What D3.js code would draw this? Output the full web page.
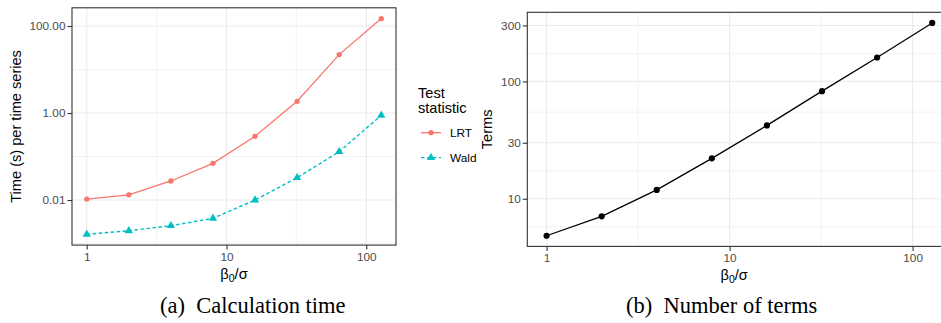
<!DOCTYPE html>
<html>
<head>
<meta charset="utf-8">
<script src="https://cdn.jsdelivr.net/npm/d3@7"></script>
<style>
  body { margin: 0; background: #fff; }
  svg { display: block; }
</style>
</head>
<body>
<div id="chart"></div>
<script>
// data
var ratio = [1, 2, 4, 8, 16, 32, 64, 128];
var lrtTime = [0.0105, 0.0132, 0.0274, 0.0698, 0.291, 1.86, 22.0, 148];
var waldTime = [0.00163, 0.00197, 0.00257, 0.0038, 0.01, 0.0326, 0.129, 0.885];
var terms = [4.84, 7.08, 11.9, 22.1, 42.2, 82.6, 160, 315];

var xTicks = [1, 10, 100];
var xTickLabels = ["1", "10", "100"];
var timeTicks = [0.01, 1, 100];
var timeTickLabels = ["0.01", "1.00", "100.00"];
var termTicks = [10, 30, 100, 300];
var termTickLabels = ["10", "30", "100", "300"];

var seriesNames = ["LRT", "Wald"];
var seriesColors = ["#F8766D", "#00BFC4"];

var fontFamily = "'Liberation Sans', Arial, Helvetica, sans-serif";
var gridColor = "#EBEBEB";

var svg = d3.select("#chart").append("svg")
  .attr("width", 941)
  .attr("height", 323);

// ggplot style: 5% expansion in log space
function logDomain(vals) {
  var e = d3.extent(vals).map(Math.log10);
  var pad = (e[1] - e[0]) * 0.05;
  return [Math.pow(10, e[0] - pad), Math.pow(10, e[1] + pad)];
}

// minor breaks halfway between major breaks (log space)
function minorBreaks(ticks) {
  var l = ticks.map(Math.log10);
  var ext = [l[0] - (l[1] - l[0])].concat(l, [l[l.length - 1] + (l[l.length - 1] - l[l.length - 2])]);
  var out = [];
  for (var i = 0; i < ext.length - 1; i++) out.push(Math.pow(10, (ext[i] + ext[i + 1]) / 2));
  return out;
}

function drawPanel(p) {
  var x = d3.scaleLog().domain(logDomain(ratio)).range([p.left, p.right]);
  var y = d3.scaleLog().domain(logDomain(p.yData)).range([p.bottom, p.top]);
  var g = svg.append("g");

  var clipId = "clip" + p.id;
  svg.append("clipPath").attr("id", clipId)
    .append("rect").attr("x", p.left).attr("y", p.top)
    .attr("width", p.right - p.left).attr("height", p.bottom - p.top);

  var grid = g.append("g").attr("clip-path", "url(#" + clipId + ")");
  var xd = x.domain(), yd = y.domain();
  var inX = function(v) { return v > xd[0] && v < xd[1]; };
  var inY = function(v) { return v > yd[0] && v < yd[1]; };

  grid.selectAll(".ymin").data(minorBreaks(p.yTicks).filter(inY)).enter().append("line")
    .attr("x1", p.left).attr("x2", p.right)
    .attr("y1", function(d) { return y(d); }).attr("y2", function(d) { return y(d); })
    .attr("stroke", gridColor).attr("stroke-width", 0.6);
  grid.selectAll(".xmin").data(minorBreaks(xTicks).filter(inX)).enter().append("line")
    .attr("y1", p.top).attr("y2", p.bottom)
    .attr("x1", function(d) { return x(d); }).attr("x2", function(d) { return x(d); })
    .attr("stroke", gridColor).attr("stroke-width", 0.6);
  grid.selectAll(".ymaj").data(p.yTicks).enter().append("line")
    .attr("x1", p.left).attr("x2", p.right)
    .attr("y1", function(d) { return y(d); }).attr("y2", function(d) { return y(d); })
    .attr("stroke", gridColor).attr("stroke-width", 1.1);
  grid.selectAll(".xmaj").data(xTicks).enter().append("line")
    .attr("y1", p.top).attr("y2", p.bottom)
    .attr("x1", function(d) { return x(d); }).attr("x2", function(d) { return x(d); })
    .attr("stroke", gridColor).attr("stroke-width", 1.1);

  // series
  var marks = g.append("g").attr("clip-path", "url(#" + clipId + ")");
  p.series.forEach(function(s) {
    var line = d3.line().x(function(d, i) { return x(ratio[i]); }).y(function(d) { return y(d); });
    marks.append("path").datum(s.values)
      .attr("d", line).attr("fill", "none")
      .attr("stroke", s.color).attr("stroke-width", s.width)
      .attr("stroke-dasharray", s.dash || null);
    marks.selectAll(null).data(s.values).enter().append("path")
      .attr("transform", function(d, i) { return "translate(" + x(ratio[i]) + "," + y(d) + ")"; })
      .attr("d", d3.symbol().type(s.shape).size(s.size))
      .attr("fill", s.color);
  });

  // border
  g.append("rect").attr("x", p.left).attr("y", p.top)
    .attr("width", p.right - p.left).attr("height", p.bottom - p.top)
    .attr("fill", "none").attr("stroke", "#333333").attr("stroke-width", 1.1);

  // axes
  var xAxis = g.append("g").attr("transform", "translate(0," + p.bottom + ")")
    .call(d3.axisBottom(x).tickValues(xTicks).tickSize(4.5).tickPadding(3)
      .tickFormat(function(d, i) { return xTickLabels[i]; }));
  var yAxis = g.append("g").attr("transform", "translate(" + p.left + ",0)")
    .call(d3.axisLeft(y).tickValues(p.yTicks).tickSize(4.5).tickPadding(2)
      .tickFormat(function(d, i) { return p.yLabels[i]; }));
  [xAxis, yAxis].forEach(function(a) {
    a.select(".domain").remove();
    a.selectAll(".tick line").attr("stroke", "#333333").attr("stroke-width", 1.1);
    a.selectAll(".tick text").attr("fill", "#4D4D4D")
      .style("font-family", fontFamily).style("font-size", "11.8px");
  });

  // x title with subscript
  var xt = g.append("text")
    .attr("x", (p.left + Math.min(p.right, 941)) / 2 + p.titleShift).attr("y", p.bottom + 34)
    .attr("text-anchor", "middle")
    .style("font-family", fontFamily).style("font-size", "14.6px").attr("fill", "#000");
  xt.append("tspan").text("\u03B2");
  xt.append("tspan").attr("dy", 3).style("font-size", "10.5px").text("0");
  xt.append("tspan").attr("dy", -3).text("/\u03C3");

  // y title
  g.append("text")
    .attr("transform", "translate(" + p.yTitleX + "," + ((p.top + p.bottom) / 2) + ") rotate(-90)")
    .attr("text-anchor", "middle")
    .style("font-family", fontFamily).style("font-size", "14.6px")
    .text(p.yTitle);
}

drawPanel({
  id: "a", left: 72, right: 396, top: 7.8, bottom: 245.1,
  yData: lrtTime.concat(waldTime), yTicks: timeTicks, yLabels: timeTickLabels,
  yTitle: "Time (s) per time series", yTitleX: 21, titleShift: 0,
  series: [
    { values: lrtTime, color: seriesColors[0], width: 1.3, shape: d3.symbolCircle, size: 22 },
    { values: waldTime, color: seriesColors[1], width: 1.4, dash: "3.5,2.5", shape: d3.symbolTriangle, size: 30 }
  ]
});

drawPanel({
  id: "b", left: 527.3, right: 951.5, top: 12.3, bottom: 246.4,
  yData: terms, yTicks: termTicks, yLabels: termTickLabels,
  yTitle: "Terms", yTitleX: 492, titleShift: 0,
  series: [
    { values: terms, color: "#000000", width: 1.3, shape: d3.symbolCircle, size: 30 }
  ]
});

// legend
var legend = svg.append("g").style("font-family", fontFamily);
legend.append("text").attr("x", 418).attr("y", 98).style("font-size", "14.6px").text("Test");
legend.append("text").attr("x", 418).attr("y", 112.7).style("font-size", "14.6px").text("statistic");
var keyShapes = [d3.symbolCircle, d3.symbolTriangle];
var keySizes = [22, 30];
var keyDash = [null, "3.5,2.5"];
seriesNames.forEach(function(name, i) {
  var ky = 132.7 + i * 25;
  legend.append("line").attr("x1", 421).attr("x2", 441).attr("y1", ky).attr("y2", ky)
    .attr("stroke", seriesColors[i]).attr("stroke-width", 1.3).attr("stroke-dasharray", keyDash[i]);
  legend.append("path").attr("transform", "translate(431," + ky + ")")
    .attr("d", d3.symbol().type(keyShapes[i]).size(keySizes[i])).attr("fill", seriesColors[i]);
  legend.append("text").attr("x", 450).attr("y", ky + 4.2)
    .style("font-size", "11.8px").attr("fill", "#000").text(name);
});

// subfigure captions
var capFont = "'Liberation Serif', 'Times New Roman', Times, serif";
svg.append("text").attr("x", 252.8).attr("y", 313).attr("text-anchor", "middle")
  .attr("xml:space", "preserve")
  .style("font-family", capFont).style("font-size", "22.5px")
  .text("(a)  Calculation time");
svg.append("text").attr("x", 721.7).attr("y", 313).attr("text-anchor", "middle")
  .attr("xml:space", "preserve")
  .style("font-family", capFont).style("font-size", "22.5px")
  .text("(b)  Number of terms");
</script>
</body>
</html>
